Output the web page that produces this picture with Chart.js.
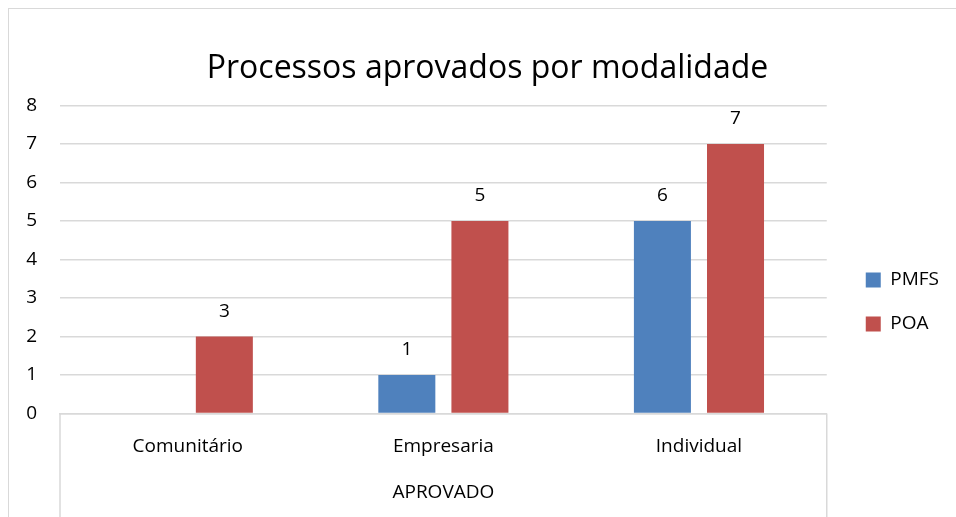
<!DOCTYPE html>
<html>
<head>
<meta charset="utf-8">
<script src="https://cdn.jsdelivr.net/npm/chart.js@4"></script>
<style>
  html, body { margin: 0; padding: 0; background: #fff; }
  #frame { position: absolute; left: 8px; top: 8px; width: 960px; height: 520px;
           border-left: 1px solid #d9d9d9; border-top: 1px solid #d9d9d9; }
  #wrap { position: absolute; left: 0; top: 0; width: 956px; height: 517px; }
</style>
</head>
<body>
<div id="frame"></div>
<div id="wrap"><canvas id="chart"></canvas></div>
<script>
// Processos aprovados por modalidade
const categories = ["Comunitário", "Empresaria", "Individual"];
const pmfsValues = [0, 1, 5];
const poaValues = [2, 5, 7];
// labels printed over the bars (as in the original, they differ from bar heights)
const pmfsLabels = ["", "1", "6"];
const poaLabels = ["3", "5", "7"];
const yTicks = [0, 1, 2, 3, 4, 5, 6, 7, 8];

const FONT = "'Open Sans', 'Noto Sans', sans-serif";
const GRID = "#d9d9d9";

const barLabels = {
  id: "barLabels",
  afterDatasetsDraw(chart) {
    const ctx = chart.ctx;
    const texts = [pmfsLabels, poaLabels];
    ctx.save();
    ctx.font = "19px " + FONT;
    ctx.fillStyle = "#000";
    ctx.textAlign = "center";
    ctx.textBaseline = "middle";
    chart.data.datasets.forEach((ds, i) => {
      chart.getDatasetMeta(i).data.forEach((bar, j) => {
        const t = texts[i][j];
        if (t) ctx.fillText(t, bar.x, bar.y - 25);
      });
    });
    ctx.restore();
  }
};

// box lines of the category axis (edges going down)
const axisBox = {
  id: "axisBox",
  afterDraw(chart) {
    const { ctx, chartArea } = chart;
    ctx.save();
    ctx.strokeStyle = GRID;
    ctx.lineWidth = 1.5;
    ctx.beginPath();
    ctx.moveTo(chartArea.left, chartArea.bottom);
    ctx.lineTo(chartArea.left, chart.height);
    ctx.moveTo(chartArea.right, chartArea.bottom);
    ctx.lineTo(chartArea.right, chart.height);
    ctx.stroke();
    ctx.restore();
  }
};

// nudge legend and title to where the original has them
const nudge = {
  id: "nudge",
  afterLayout(chart) {
    const l = chart.legend;
    l.left += 14; l.right += 14;
    l.top += 25; l.bottom += 25;
    const t = chart.titleBlock;
    t.left += 20; t.right += 20;
  }
};

new Chart(document.getElementById("chart"), {
  type: "bar",
  data: {
    labels: categories,
    datasets: [
      { label: "PMFS", data: pmfsValues, backgroundColor: "#4f81bd",
        barPercentage: 0.78, categoryPercentage: 0.572 },
      { label: "POA", data: poaValues, backgroundColor: "#c0504d",
        barPercentage: 0.78, categoryPercentage: 0.572 }
    ]
  },
  options: {
    responsive: true,
    maintainAspectRatio: false,
    animation: false,
    layout: { padding: { left: 0, right: 21, top: 50, bottom: 13 } },
    plugins: {
      title: {
        display: true,
        text: "Processos aprovados por modalidade",
        color: "#000",
        font: { family: FONT, size: 32, weight: "normal" },
        padding: { top: 0, bottom: 17 }
      },
      legend: {
        position: "right",
        labels: {
          color: "#000",
          font: { family: FONT, size: 19 },
          boxWidth: 15,
          boxHeight: 15,
          padding: 25
        }
      },
      tooltip: { enabled: false }
    },
    scales: {
      x: {
        grid: { display: false, drawTicks: false },
        border: { display: true, color: GRID, width: 1.5 },
        ticks: { color: "#000", font: { family: FONT, size: 19 }, padding: 22 },
        title: {
          display: true,
          text: "APROVADO",
          color: "#000",
          font: { family: FONT, size: 19 },
          padding: { top: 1, bottom: 0 }
        }
      },
      y: {
        min: 0,
        max: 8,
        afterFit(scale) { scale.width = 60; },
        afterBuildTicks(scale) { scale.ticks = yTicks.map(v => ({ value: v })); },
        grid: { color: GRID, lineWidth: 1.5, drawTicks: false },
        border: { display: false },
        ticks: { color: "#000", font: { family: FONT, size: 19 }, padding: 23 }
      }
    }
  },
  plugins: [barLabels, axisBox, nudge]
});
</script>
</body>
</html>
